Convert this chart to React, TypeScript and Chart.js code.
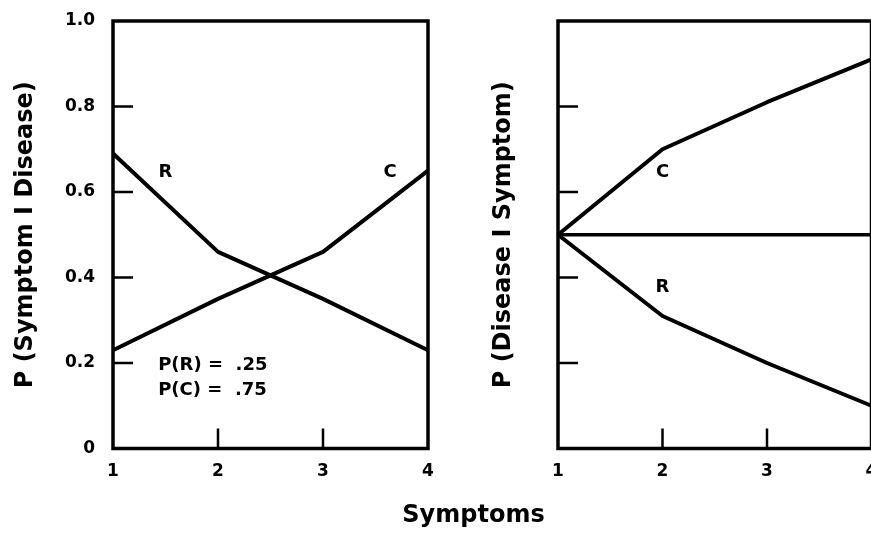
import { useEffect, useRef } from 'react';
import { Chart, registerables } from 'chart.js';

Chart.register(...registerables);

// ---- data ----
const symptoms = ['1', '2', '3', '4'];
const leftR = [0.69, 0.46, 0.35, 0.23];
const leftC = [0.23, 0.35, 0.46, 0.65];
const rightC = [0.5, 0.7, 0.81, 0.91];
const rightR = [0.5, 0.31, 0.2, 0.1];
const rightEqual = [0.5, 0.5, 0.5, 0.5];
const yTickLabels = ['0', '0.2', '0.4', '0.6', '0.8', '1.0'];
const leftYTitle = 'P (Symptom I Disease)';
const rightYTitle = 'P (Disease I Symptom)';
const xTitle = 'Symptoms';

type Note = { text: string; x: number; y: number; align: CanvasTextAlign };
const leftNotes: Note[] = [
  { text: 'R', x: 0.5, y: 0.645, align: 'center' },
  { text: 'C', x: 2.64, y: 0.645, align: 'center' },
  { text: 'P(R) =  .25', x: 0.43, y: 0.195, align: 'left' },
  { text: 'P(C) =  .75', x: 0.43, y: 0.136, align: 'left' },
];
const rightNotes: Note[] = [
  { text: 'C', x: 1.0, y: 0.645, align: 'center' },
  { text: 'R', x: 1.0, y: 0.378, align: 'center' },
];

const FONT = 'DejaVu Sans';

function makeFrame(notes: Note[]) {
  return {
    id: 'frame',
    afterDatasetsDraw(chart: any) {
      const { ctx, chartArea: a, scales } = chart;
      const xs = scales.x;
      const ys = scales.y;
      ctx.save();
      ctx.strokeStyle = '#000';
      ctx.lineWidth = 2.5;
      ctx.beginPath();
      xs.ticks.forEach((_t: any, i: number) => {
        if (i === 0 || i === xs.ticks.length - 1) return;
        const px = xs.getPixelForTick(i);
        ctx.moveTo(px, a.bottom);
        ctx.lineTo(px, a.bottom - 20);
      });
      ys.ticks.forEach((_t: any, i: number) => {
        if (i === 0 || i === ys.ticks.length - 1) return;
        const py = ys.getPixelForTick(i);
        ctx.moveTo(a.left, py);
        ctx.lineTo(a.left + 20, py);
      });
      ctx.stroke();
      ctx.lineWidth = 3.5;
      ctx.strokeRect(a.left, a.top, a.right - a.left, a.bottom - a.top);
      ctx.fillStyle = '#000';
      ctx.font = `bold 18px "${FONT}"`;
      ctx.textBaseline = 'middle';
      notes.forEach((n) => {
        ctx.textAlign = n.align;
        ctx.fillText(n.text, xs.getPixelForValue(n.x), ys.getPixelForValue(n.y));
      });
      ctx.restore();
    },
  };
}

function lineDs(label: string, data: number[], width = 4) {
  return {
    label,
    data,
    borderColor: '#000',
    backgroundColor: '#000',
    borderWidth: width,
    pointRadius: 0,
    tension: 0,
    fill: false,
    borderJoinStyle: 'round' as const,
  };
}

function makeConfig(
  datasets: any[],
  yTitle: string,
  showYTicks: boolean,
  padLeft: number,
  yWidth: number,
  padRight: number,
  notes: Note[]
) {
  return {
    type: 'line' as const,
    data: { labels: symptoms, datasets },
    plugins: [makeFrame(notes)],
    options: {
      responsive: false,
      animation: false as const,
      devicePixelRatio: 1,
      layout: { padding: { left: padLeft, top: 21, right: padRight, bottom: 0 } },
      plugins: { legend: { display: false }, tooltip: { enabled: false } },
      scales: {
        x: {
          type: 'category' as const,
          offset: false,
          grid: { display: false, drawTicks: true, tickLength: 13 },
          border: { display: false },
          ticks: {
            color: '#000',
            padding: 0,
            maxRotation: 0,
            font: { family: FONT, weight: 'bold' as const, size: 17 },
          },
          afterFit: (s: any) => {
            s.height = 85.5;
          },
        },
        y: {
          min: 0,
          max: 1,
          grid: { display: false, drawTicks: true, tickLength: 18 },
          border: { display: false },
          ticks: {
            display: showYTicks,
            stepSize: 0.2,
            color: '#000',
            padding: 0,
            font: { family: FONT, weight: 'bold' as const, size: 17 },
            callback: (_v: any, i: number) => yTickLabels[i],
          },
          title: {
            display: true,
            text: yTitle,
            color: '#000',
            padding: 0,
            font: { family: FONT, weight: 'bold' as const, size: 24 },
          },
          afterFit: (s: any) => {
            s.width = yWidth;
          },
        },
      },
    },
  };
}

export default function App() {
  const leftRef = useRef<HTMLCanvasElement>(null);
  const rightRef = useRef<HTMLCanvasElement>(null);

  useEffect(() => {
    const left = new Chart(
      leftRef.current as HTMLCanvasElement,
      makeConfig(
        [lineDs('R', leftR), lineDs('C', leftC)],
        leftYTitle,
        true,
        11,
        102,
        42,
        leftNotes
      ) as any
    );
    const right = new Chart(
      rightRef.current as HTMLCanvasElement,
      makeConfig(
        [lineDs('C', rightC), lineDs('R', rightR), lineDs('Equal', rightEqual, 3.5)],
        rightYTitle,
        false,
        31.2,
        68.8,
        56.5,
        rightNotes
      ) as any
    );
    return () => {
      left.destroy();
      right.destroy();
    };
  }, []);

  return (
    <div
      style={{
        position: 'fixed',
        left: 0,
        top: 0,
        width: 871,
        height: 534,
        overflow: 'hidden',
        background: '#fff',
      }}
    >
      <canvas
        ref={leftRef}
        width={470}
        height={534}
        style={{ position: 'absolute', left: 0, top: 0, width: 470, height: 534 }}
      />
      <canvas
        ref={rightRef}
        width={470}
        height={534}
        style={{ position: 'absolute', left: 458, top: 0, width: 470, height: 534 }}
      />
      <div
        style={{
          position: 'absolute',
          left: 373.5,
          width: 200,
          top: 501.7,
          textAlign: 'center',
          fontFamily: FONT,
          fontWeight: 'bold',
          fontSize: 24,
          lineHeight: '24px',
          color: '#000',
          whiteSpace: 'nowrap',
        }}
      >
        {xTitle}
      </div>
    </div>
  );
}
